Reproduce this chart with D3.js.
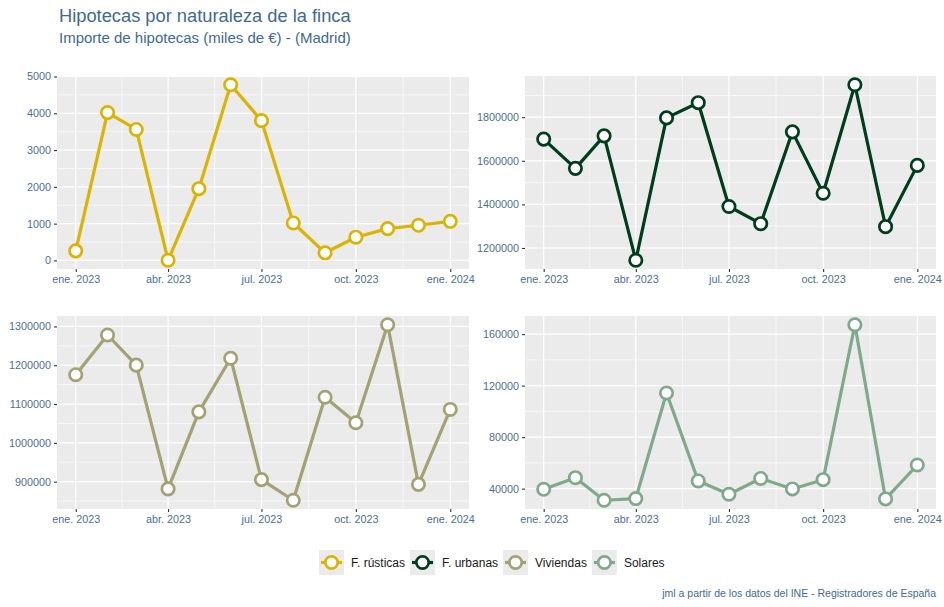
<!DOCTYPE html>
<html>
<head>
<meta charset="utf-8">
<script src="https://cdn.jsdelivr.net/npm/d3@7"></script>
<style>
  html, body { margin: 0; padding: 0; background: #ffffff; }
  svg { display: block; font-family: "Liberation Sans", Arial, sans-serif; }
</style>
</head>
<body>
<svg id="chart" width="944" height="607"></svg>
<script>
// ---------- DATA ----------
const months = ["2023-01-01","2023-02-01","2023-03-01","2023-04-01","2023-05-01","2023-06-01",
                "2023-07-01","2023-08-01","2023-09-01","2023-10-01","2023-11-01","2023-12-01","2024-01-01"];
const seriesNames = ["F. rústicas", "F. urbanas", "Viviendas", "Solares"];
const seriesColors = ["#dab400", "#003d1c", "#a2a274", "#80a98b"];
const rusticas = [260, 4020, 3560, 5, 1950, 4775, 3800, 1018, 207, 631, 865, 955, 1063];
const urbanas  = [1699500, 1565300, 1714600, 1143800, 1796800, 1866700, 1390400, 1311400, 1732900, 1451100, 1948900, 1297700, 1579000];
const viviendas = [1175600, 1278000, 1200200, 881400, 1079900, 1218100, 905200, 852200, 1117600, 1051800, 1304300, 893100, 1086100];
const solares  = [39500, 48500, 31000, 32300, 114300, 45960, 35660, 47900, 39770, 46960, 167280, 32000, 58350];
const xTickDates = ["2023-01-01","2023-04-01","2023-07-01","2023-10-01","2024-01-01"];
const xTickLabels = ["ene. 2023","abr. 2023","jul. 2023","oct. 2023","ene. 2024"];
const yTicks1 = [0, 1000, 2000, 3000, 4000, 5000];
const yTicks2 = [1200000, 1400000, 1600000, 1800000];
const yTicks3 = [900000, 1000000, 1100000, 1200000, 1300000];
const yTicks4 = [40000, 80000, 120000, 160000];
const titleText = "Hipotecas por naturaleza de la finca";
const subtitleText = "Importe de hipotecas (miles de €) - (Madrid)";
const captionText = "jml a partir de los datos del INE - Registradores de España";

// ---------- LAYOUT ----------
const svg = d3.select("#chart");
const parse = d3.timeParse("%Y-%m-%d");
const dates = months.map(parse);
const xTicks = xTickDates.map(parse);
const textColor = "#3e6a94";
const tickColor = "#4d6f92";

const panels = [
  {values: rusticas,  ticks: yTicks1, x0: 57,  x1: 469, y0: 76,  y1: 269},
  {values: urbanas,   ticks: yTicks2, x0: 525, x1: 936, y0: 76,  y1: 269},
  {values: viviendas, ticks: yTicks3, x0: 57,  x1: 469, y0: 316, y1: 509},
  {values: solares,   ticks: yTicks4, x0: 525, x1: 936, y0: 316, y1: 509}
];

// title
svg.append("text").attr("x", 59).attr("y", 22)
  .attr("font-size", 18.3).attr("fill", textColor).text(titleText);
svg.append("text").attr("x", 59).attr("y", 43)
  .attr("font-size", 15).attr("fill", textColor).text(subtitleText);

function expand(lo, hi, f) { const d = (hi - lo) * f; return [lo - d, hi + d]; }

panels.forEach((p, i) => {
  const color = seriesColors[i];
  const xd = expand(+dates[0], +dates[dates.length - 1], 0.05);
  const x = d3.scaleTime().domain([new Date(xd[0]), new Date(xd[1])]).range([p.x0, p.x1]);
  const [ymin, ymax] = d3.extent(p.values);
  const y = d3.scaleLinear().domain(expand(ymin, ymax, 0.05)).range([p.y1, p.y0]);

  const g = svg.append("g");
  g.append("rect").attr("x", p.x0).attr("y", p.y0)
    .attr("width", p.x1 - p.x0).attr("height", p.y1 - p.y0).attr("fill", "#ebebeb");

  // minor gridlines
  const step = p.ticks[1] - p.ticks[0];
  const yMinor = [p.ticks[0] - step / 2].concat(p.ticks.map(t => t + step / 2))
    .filter(v => y(v) >= p.y0 && y(v) <= p.y1);
  g.selectAll(".ymin").data(yMinor).enter().append("line")
    .attr("x1", p.x0).attr("x2", p.x1).attr("y1", d => y(d)).attr("y2", d => y(d))
    .attr("stroke", "#ffffff").attr("stroke-width", 0.6);
  const xMinor = [];
  for (let k = 0; k < xTicks.length - 1; k++) xMinor.push(new Date((+xTicks[k] + +xTicks[k + 1]) / 2));
  g.selectAll(".xmin").data(xMinor).enter().append("line")
    .attr("y1", p.y0).attr("y2", p.y1).attr("x1", d => x(d)).attr("x2", d => x(d))
    .attr("stroke", "#ffffff").attr("stroke-width", 0.6);

  // major gridlines
  g.selectAll(".ymaj").data(p.ticks).enter().append("line")
    .attr("x1", p.x0).attr("x2", p.x1).attr("y1", d => y(d)).attr("y2", d => y(d))
    .attr("stroke", "#ffffff").attr("stroke-width", 1.2);
  g.selectAll(".xmaj").data(xTicks).enter().append("line")
    .attr("y1", p.y0).attr("y2", p.y1).attr("x1", d => x(d)).attr("x2", d => x(d))
    .attr("stroke", "#ffffff").attr("stroke-width", 1.2);

  // axes
  const xAxis = d3.axisBottom(x).tickValues(xTicks)
    .tickFormat((d, k) => xTickLabels[k]).tickSize(3).tickPadding(3);
  const gx = svg.append("g").attr("transform", `translate(0,${p.y1})`).call(xAxis);
  const yAxis = d3.axisLeft(y).tickValues(p.ticks).tickFormat(d3.format("d")).tickSize(3).tickPadding(3);
  const gy = svg.append("g").attr("transform", `translate(${p.x0},0)`).call(yAxis);
  [gx, gy].forEach(a => {
    a.select(".domain").remove();
    a.selectAll(".tick line").attr("stroke", "#333333").attr("stroke-width", 1.1);
    a.selectAll(".tick text").attr("fill", tickColor).attr("font-size", 10.8)
      .attr("font-family", "\"Liberation Sans\", Arial, sans-serif");
  });

  // line + points
  const line = d3.line().x((d, k) => x(dates[k])).y(d => y(d));
  g.append("path").datum(p.values).attr("d", line).attr("fill", "none")
    .attr("stroke", color).attr("stroke-width", 3.2).attr("stroke-linejoin", "round");
  g.selectAll(".pt").data(p.values).enter().append("circle")
    .attr("cx", (d, k) => x(dates[k])).attr("cy", d => y(d)).attr("r", 6.2)
    .attr("fill", "#ffffff").attr("stroke", color).attr("stroke-width", 2.7);
});

// legend
const lg = svg.append("g");
let lx = 319;
const ly = 550, ks = 25;
seriesNames.forEach((name, i) => {
  const it = lg.append("g");
  it.append("rect").attr("x", lx).attr("y", ly).attr("width", ks).attr("height", ks).attr("fill", "#ebebeb");
  it.append("line").attr("x1", lx + 2).attr("x2", lx + ks - 2).attr("y1", ly + ks / 2).attr("y2", ly + ks / 2)
    .attr("stroke", seriesColors[i]).attr("stroke-width", 3.2);
  it.append("circle").attr("cx", lx + ks / 2).attr("cy", ly + ks / 2).attr("r", 6.2)
    .attr("fill", "#ffffff").attr("stroke", seriesColors[i]).attr("stroke-width", 2.7);
  const t = it.append("text").attr("x", lx + ks + 7).attr("y", ly + ks / 2 + 4)
    .attr("font-size", 12).attr("fill", "#1a1a1a").text(name);
  lx += ks + 7 + t.node().getComputedTextLength() + 5;
});

// caption
svg.append("text").attr("x", 936).attr("y", 597).attr("text-anchor", "end")
  .attr("font-size", 10.5).attr("fill", textColor).text(captionText);
</script>
</body>
</html>
